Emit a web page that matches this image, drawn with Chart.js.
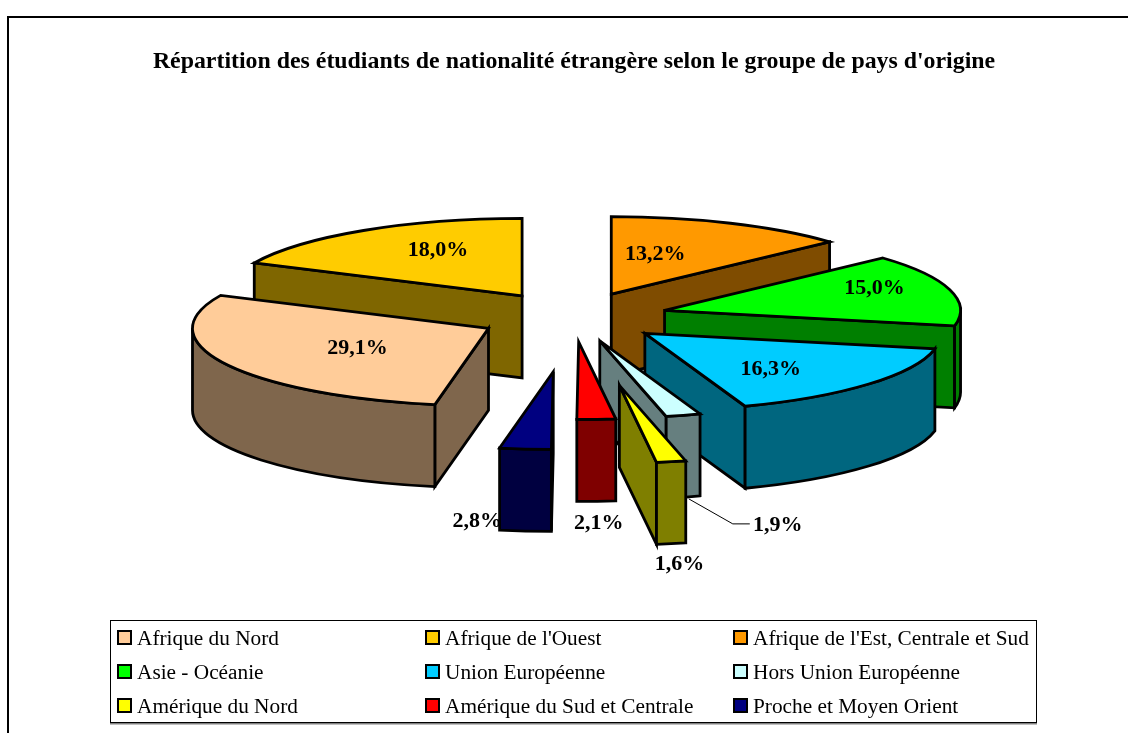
<!DOCTYPE html>
<html lang="fr">
<head>
<meta charset="utf-8">
<title>Répartition des étudiants</title>
<style>html,body{margin:0;padding:0;background:#fff}canvas{display:block}</style>
<script src="https://cdn.jsdelivr.net/npm/chart.js@4/dist/chart.umd.min.js"></script>
</head>
<body>
<canvas id="c" width="1128" height="733"></canvas>
<script>
const chartTitle = "Répartition des étudiants de nationalité étrangère selon le groupe de pays d'origine";
const categories = ["Afrique du Nord","Afrique de l'Ouest","Afrique de l'Est, Centrale et Sud","Asie - Océanie","Union Européenne","Hors Union Européenne","Amérique du Nord","Amérique du Sud et Centrale","Proche et Moyen Orient"];
const shares = [29.1,18.0,13.2,15.0,16.3,1.9,1.6,2.1,2.8];
const sliceColors = ["#FFCC99","#FFCC00","#FF9900","#00FF00","#00CCFF","#CCFFFF","#FFFF00","#FF0000","#000080"];

// Display settings (pseudo-3D projection of the pie)
const FONT = '"Liberation Serif","Times New Roman",serif';
const tilt = 0.262, depth = 82, pieRadius = 296, pieCentre = {x:573, y:317};
const explosion = [95,95,95,95,95,95,265,95,210];
const labelShift = [[-131,20],[-84,-46],[44,-40],[210,-22],[126,36],[178,184],[60,179],[20,181],[-76,150]];
const leaderOf = 5, leaderShape = [[-89,-26],[-45,-1],[-28,-1]];

const halve = hex => {
  const n = parseInt(hex.slice(1),16);
  return `rgb(${(n>>16&255)>>1},${(n>>8&255)>>1},${(n&255)>>1})`;
};

const pie3d = {
  id:'pie3d',
  beforeDraw(chart){
    const {ctx,width,height} = chart;
    ctx.save();
    ctx.fillStyle='#fff'; ctx.fillRect(0,0,width,height);
    ctx.strokeStyle='#000'; ctx.lineWidth=2;
    ctx.beginPath(); ctx.moveTo(8,height); ctx.lineTo(8,17); ctx.lineTo(width,17); ctx.stroke();
    ctx.restore();
  },
  beforeDatasetsDraw(chart){
    const {ctx} = chart;
    const arcs = chart.getDatasetMeta(0).data;
    const geo = arcs.map((arc,i)=>{
      const mid=(arc.startAngle+arc.endAngle)/2, d=explosion[i];
      return {arc,i,a0:arc.startAngle,a1:arc.endAngle,mid,R:arc.outerRadius,
        tx:pieCentre.x+d*Math.cos(mid), ty:pieCentre.y+tilt*d*Math.sin(mid)};
    });
    const order=[...geo].sort((p,q)=>p.ty-q.ty);
    ctx.save();
    ctx.lineJoin='miter'; ctx.miterLimit=6; ctx.lineWidth=2.8; ctx.strokeStyle='#000';
    const pt=(g,a)=>[g.tx+g.R*Math.cos(a), g.ty+tilt*g.R*Math.sin(a)];
    const face=(draw,color)=>{ctx.beginPath();draw();ctx.closePath();ctx.fillStyle=color;ctx.fill();ctx.stroke();};
    for(const g of order){
      const side=halve(sliceColors[g.i]);
      const M=pt(g,g.mid);
      // flat radial walls that face the viewer
      for(const a of [g.a0,g.a1]){
        const P=pt(g,a);
        let nx=P[1]-g.ty, ny=-(P[0]-g.tx);
        if(nx*(M[0]-g.tx)+ny*(M[1]-g.ty)>0){nx=-nx;ny=-ny;}
        if(ny>0.01){
          face(()=>{ctx.moveTo(g.tx,g.ty);ctx.lineTo(P[0],P[1]);ctx.lineTo(P[0],P[1]+depth);ctx.lineTo(g.tx,g.ty+depth);},side);
        }
      }
      // curved outer wall: only the front half of the ellipse
      for(let n=-1;n<=2;n++){
        const lo=Math.max(g.a0,n*2*Math.PI), hi=Math.min(g.a1,n*2*Math.PI+Math.PI);
        if(hi>lo){
          face(()=>{
            ctx.ellipse(g.tx,g.ty,g.R,tilt*g.R,0,lo,hi,false);
            ctx.ellipse(g.tx,g.ty+depth,g.R,tilt*g.R,0,hi,lo,true);
          },side);
        }
      }
      // top surface: the library's own arc, projected
      ctx.save();
      ctx.translate(g.tx,g.ty); ctx.scale(1,tilt); ctx.translate(-g.arc.x,-g.arc.y);
      g.arc.draw(ctx);
      ctx.restore();
      ctx.beginPath();
      ctx.moveTo(g.tx,g.ty);
      ctx.ellipse(g.tx,g.ty,g.R,tilt*g.R,0,g.a0,g.a1,false);
      ctx.closePath();
      ctx.stroke();
    }
    ctx.restore();

    // value labels
    ctx.save();
    ctx.font='bold 22px '+FONT; ctx.fillStyle='#000';
    ctx.textAlign='center'; ctx.textBaseline='middle';
    geo.forEach(g=>{
      const x=g.tx+labelShift[g.i][0], y=g.ty+labelShift[g.i][1];
      ctx.fillText(shares[g.i].toFixed(1).replace('.',',')+'%',x,y);
      if(g.i===leaderOf){
        ctx.strokeStyle='#000'; ctx.lineWidth=1;
        ctx.beginPath();
        leaderShape.forEach((s,k)=>k?ctx.lineTo(x+s[0],y+s[1]):ctx.moveTo(x+s[0],y+s[1]));
        ctx.stroke();
      }
    });
    ctx.restore();
    return false;
  },
  afterDraw(chart){
    const {ctx}=chart;
    const box={l:110,t:620,r:1036,b:723}, colX=[117,425,733], rowY=[638,672,706];
    ctx.save();
    ctx.strokeStyle='#808080'; ctx.lineWidth=2;
    ctx.beginPath(); ctx.moveTo(box.l,box.b+.5); ctx.lineTo(box.r+1,box.b+.5); ctx.stroke();
    ctx.strokeStyle='#000'; ctx.lineWidth=1;
    ctx.strokeRect(box.l+.5,box.t+.5,box.r-box.l,box.b-box.t-1);
    ctx.font='21.3px '+FONT; ctx.textAlign='left'; ctx.textBaseline='middle';
    categories.forEach((name,i)=>{
      const x=colX[i%3], y=rowY[Math.floor(i/3)];
      ctx.fillStyle=sliceColors[i]; ctx.fillRect(x+1,y-7,13,13);
      ctx.strokeStyle='#000'; ctx.lineWidth=2; ctx.strokeRect(x+1,y-7,13,13);
      ctx.fillStyle='#000'; ctx.fillText(name,x+20,y+1);
    });
    ctx.restore();
  }
};

new Chart(document.getElementById('c'),{
  type:'pie',
  data:{labels:categories,datasets:[{data:shares,backgroundColor:sliceColors,borderWidth:0}]},
  options:{
    responsive:false,animation:false,events:[],
    rotation:190.44,radius:pieRadius,
    layout:{padding:{left:20}},
    plugins:{
      legend:{display:false},tooltip:{enabled:false},
      title:{display:true,text:chartTitle,color:'#000',
        font:{family:FONT,size:23.85,weight:'bold'},padding:{top:48,bottom:10}}
    }
  },
  plugins:[pie3d]
});
</script>
</body>
</html>
